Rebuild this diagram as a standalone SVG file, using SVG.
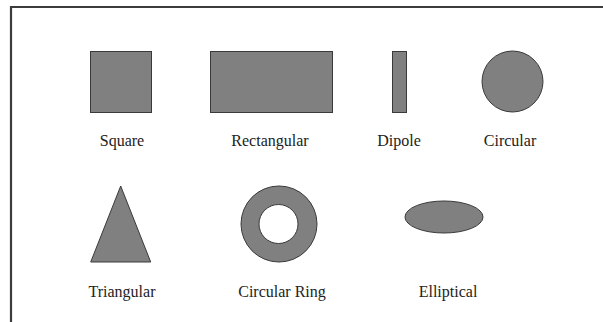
<svg xmlns="http://www.w3.org/2000/svg" width="603" height="322" viewBox="0 0 603 322">
<style>
.shape{fill:#808080;stroke:#3a3a3a;stroke-width:1}
.lbl{font-family:"Liberation Serif","Times New Roman",serif;font-size:16px;fill:#222;text-anchor:middle}
</style>
<rect width="603" height="322" fill="#fff"/>
<path d="M11,330 V7 H610" fill="none" stroke="#3c3c3c" stroke-width="2.2"/>
<g id="square"><rect class="shape" x="90.5" y="51.5" width="61" height="61"/><text class="lbl" x="122" y="146">Square</text></g>
<g id="rectangular"><rect class="shape" x="210.5" y="51.5" width="122" height="61"/><text class="lbl" x="270" y="146">Rectangular</text></g>
<g id="dipole"><rect class="shape" x="392.5" y="51.5" width="14" height="61"/><text class="lbl" x="399" y="146">Dipole</text></g>
<g id="circular"><circle class="shape" cx="512.5" cy="81.5" r="30.5"/><text class="lbl" x="510" y="146">Circular</text></g>
<g id="triangular"><polygon class="shape" points="120.7,186 150.7,262 90.7,262"/><text class="lbl" x="122" y="297">Triangular</text></g>
<g id="circular-ring"><path class="shape" fill-rule="evenodd" d="M241,224 a38,38 0 1,0 76,0 a38,38 0 1,0 -76,0 Z M259,224 a19.5,19.5 0 1,0 39,0 a19.5,19.5 0 1,0 -39,0 Z"/><text class="lbl" x="282" y="297">Circular Ring</text></g>
<g id="elliptical"><ellipse class="shape" cx="444" cy="217" rx="39" ry="16"/><text class="lbl" x="448" y="297">Elliptical</text></g>
<g id="connectors"></g>
</svg>
